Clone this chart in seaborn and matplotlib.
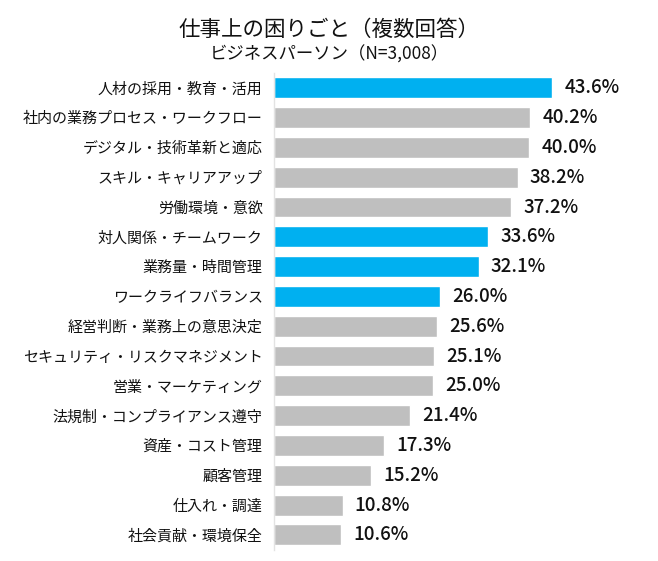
import matplotlib
matplotlib.use("Agg")
import matplotlib.pyplot as plt
import seaborn as sns
import pandas as pd

# data
categories = [
    "人材の採用・教育・活用",
    "社内の業務プロセス・ワークフロー",
    "デジタル・技術革新と適応",
    "スキル・キャリアアップ",
    "労働環境・意欲",
    "対人関係・チームワーク",
    "業務量・時間管理",
    "ワークライフバランス",
    "経営判断・業務上の意思決定",
    "セキュリティ・リスクマネジメント",
    "営業・マーケティング",
    "法規制・コンプライアンス遵守",
    "資産・コスト管理",
    "顧客管理",
    "仕入れ・調達",
    "社会貢献・環境保全",
]
values = [43.6, 40.2, 40.0, 38.2, 37.2, 33.6, 32.1, 26.0,
          25.6, 25.1, 25.0, 21.4, 17.3, 15.2, 10.8, 10.6]
highlighted = ["人材の採用・教育・活用", "対人関係・チームワーク", "業務量・時間管理",
               "ワークライフバランス"]

BLUE = "#00B0F0"
GRAY = "#BFBFBF"

df = pd.DataFrame({"item": categories, "pct": values})
palette = {c: (BLUE if c in highlighted else GRAY) for c in categories}

sns.set_theme(style="white")
plt.rcParams["font.family"] = ["Noto Sans CJK JP", "DejaVu Sans"]

fig = plt.figure(figsize=(6.58, 5.61), dpi=100)
ax = fig.add_axes([0.416, 0.02, 0.56, 0.85])

sns.barplot(data=df, x="pct", y="item", hue="item", palette=palette,
            order=categories, legend=False, width=0.7, saturation=1, ax=ax)

# percentage labels at the bar ends
for i, v in enumerate(values):
    ax.text(v + 1.9, i, f"{v:.1f}%", va="center", ha="left",
            fontsize=13.5, fontweight="medium", color="#111111")

ax.set_xlim(0, 57.7)
ax.set_ylim(15.5, -0.5)
ax.set_xlabel("")
ax.set_ylabel("")
ax.set_xticks([])
ax.tick_params(axis="y", length=0, pad=8, labelsize=10.8, labelcolor="#111111")
for s in ["top", "right", "bottom"]:
    ax.spines[s].set_visible(False)
ax.spines["left"].set_color("#E3E3E3")
ax.spines["left"].set_linewidth(1)

fig.text(0.5, 0.947, "仕事上の困りごと（複数回答）", ha="center", va="center",
         fontsize=15.5, color="#111111")
fig.text(0.5, 0.903, "ビジネスパーソン（N=3,008）", ha="center", va="center",
         fontsize=12.5, color="#111111")

fig.savefig("out.png", dpi=100)
